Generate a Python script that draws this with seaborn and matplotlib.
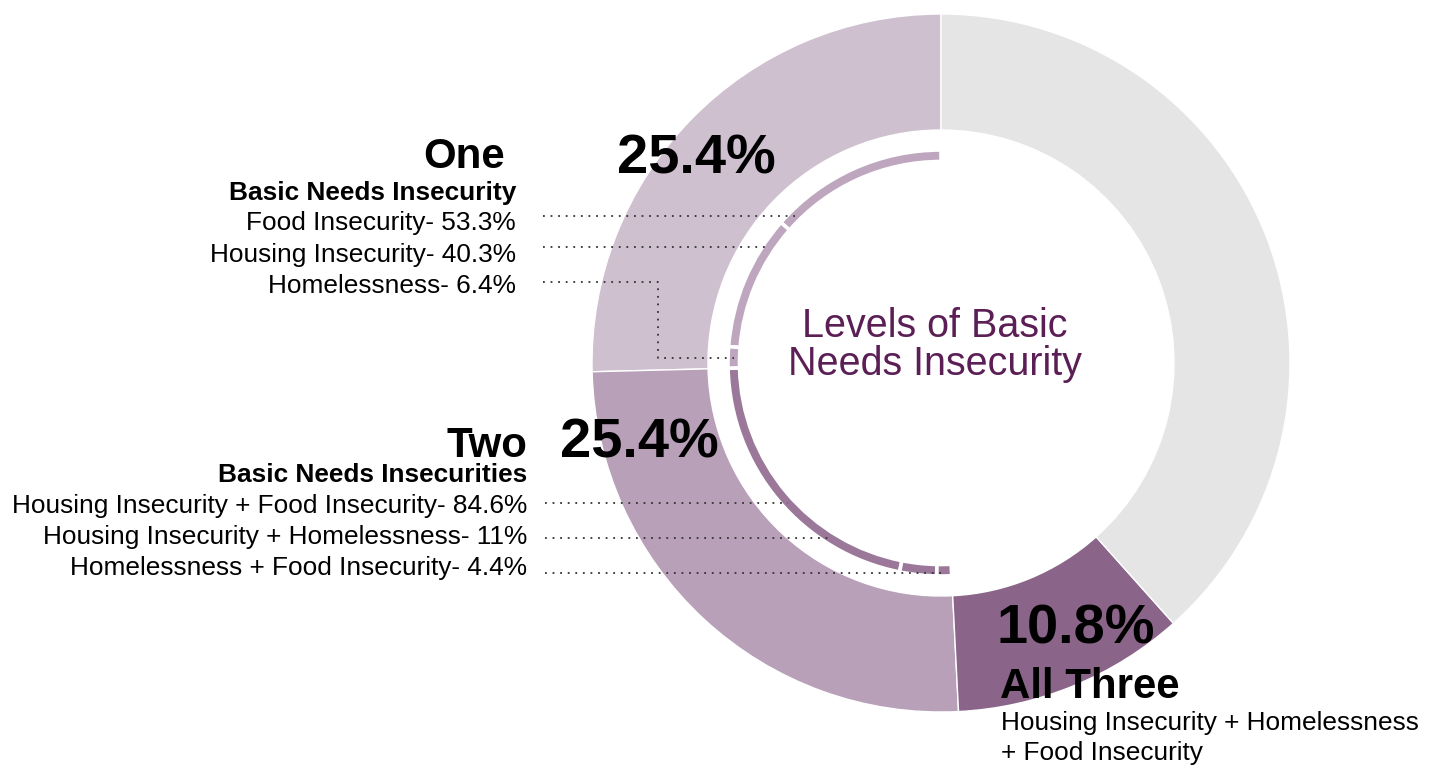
import numpy as np
import matplotlib
matplotlib.use("Agg")
import matplotlib.pyplot as plt
import seaborn as sns

# Share of students by number of basic needs insecurities (%)
levels = ["One", "Two", "All Three"]
level_pct = [25.4, 25.4, 10.8]
level_pct_labels = ["25.4%", "25.4%", "10.8%"]

# Breakdown inside "One"
one_items = ["Food Insecurity", "Housing Insecurity", "Homelessness"]
one_pct = [53.3, 40.3, 6.4]

# Breakdown inside "Two"
two_items = ["Housing Insecurity + Food Insecurity",
             "Housing Insecurity + Homelessness",
             "Homelessness + Food Insecurity"]
two_pct = [84.6, 11, 4.4]

all_three_desc = ["Housing Insecurity + Homelessness", "+ Food Insecurity"]
center_title = ["Levels of Basic", "Needs Insecurity"]

# Colours
ring_colors = ["#cfc0d0", "#b8a0b8", "#8a6489", "#e5e5e5"]
one_arc_color = "#bea6be"
two_arc_color = "#9b789a"
title_color = "#5b1f56"
leader_color = "#333333"

sns.set_theme(style="white")
plt.rcParams["font.family"] = ["Liberation Sans", "DejaVu Sans"]

W, H = 1439, 768
fig = plt.figure(figsize=(W / 100, H / 100), dpi=100)
ax = fig.add_axes([0, 0, 1, 1])


def py(y):
    """Convert a top-down pixel row into the axes' y coordinate."""
    return H - y


def pt(px):
    return px * 72 / 100


cx, cy_px = 941, 363
cy = py(cy_px)
R_out, ring_w = 349, 116
R_sub, sub_w = 213, 11.5
r_mid = R_sub - sub_w / 2

# Outer ring: the three levels plus the remainder
rest = 100 - sum(level_pct)
ax.pie(level_pct + [rest], colors=ring_colors, startangle=90, counterclock=True,
       radius=R_out, center=(cx, cy),
       wedgeprops=dict(width=ring_w, edgecolor="white", linewidth=1))

# Inner thin arcs: breakdown of "One" and "Two" laid over their share of the ring
sub_vals = [level_pct[0] * p / sum(one_pct) for p in one_pct] + \
           [level_pct[1] * p / sum(two_pct) for p in two_pct]
sub_vals.append(100 - sum(sub_vals))
sub_colors = [one_arc_color] * 3 + [two_arc_color] * 3 + ["white"]
sub_wedges, _ = ax.pie(sub_vals, colors=sub_colors, startangle=90, counterclock=True,
                       radius=R_sub, center=(cx, cy),
                       wedgeprops=dict(width=sub_w, edgecolor="white", linewidth=2.6))
sub_wedges[-1].set_visible(False)


def arc_x_at(y_px):
    dy = cy_px - y_px
    if abs(dy) < r_mid:
        return cx - np.sqrt(r_mid ** 2 - dy ** 2)
    return cx


dot_style = dict(color=leader_color, linestyle=(0, (1, 3.2)), linewidth=1.3,
                 dash_capstyle="butt", zorder=5)

# ---- "One" block -------------------------------------------------------
bold = dict(fontweight="bold", color="black")
ax.text(505, py(168), levels[0], ha="right", va="baseline", fontsize=pt(42), **bold)
ax.text(617, py(173), level_pct_labels[0], ha="left", va="baseline", fontsize=pt(56), **bold)
ax.text(516, py(200), "Basic Needs Insecurity", ha="right", va="baseline",
        fontsize=pt(26.3), **bold)

one_base = [230, 262, 293]
one_lead = [216, 247, 282]
for i, (item, p) in enumerate(zip(one_items, one_pct)):
    ax.text(516, py(one_base[i]), f"{item}- {p:g}%", ha="right", va="baseline",
            fontsize=pt(26.2), color="black")
for i in range(2):
    y = one_lead[i]
    ax.plot([543, arc_x_at(y)], [py(y), py(y)], **dot_style)

# Homelessness leader bends down to its own small arc
w = sub_wedges[2]
mid = np.deg2rad((w.theta1 + w.theta2) / 2)
tx, ty = cx + r_mid * np.cos(mid), cy + r_mid * np.sin(mid)
ax.plot([543, 658, 658, tx], [py(one_lead[2]), py(one_lead[2]), ty, ty], **dot_style)

# ---- "Two" block -------------------------------------------------------
ax.text(527, py(457), levels[1], ha="right", va="baseline", fontsize=pt(42), **bold)
ax.text(560, py(457), level_pct_labels[1], ha="left", va="baseline", fontsize=pt(56), **bold)
ax.text(527, py(482), "Basic Needs Insecurities", ha="right", va="baseline",
        fontsize=pt(26.3), **bold)

two_base = [513, 544, 575]
two_lead = [503, 538, 573]
for i, (item, p) in enumerate(zip(two_items, two_pct)):
    ax.text(527, py(two_base[i]), f"{item}- {p:g}%", ha="right", va="baseline",
            fontsize=pt(26.2), color="black")
    y = two_lead[i]
    ax.plot([545, arc_x_at(y)], [py(y), py(y)], **dot_style)

# ---- "All Three" block -------------------------------------------------
ax.text(996, py(643), level_pct_labels[2], ha="left", va="baseline", fontsize=pt(56), **bold)
ax.text(1000, py(698), levels[2], ha="left", va="baseline", fontsize=pt(42), **bold)
for line, yb in zip(all_three_desc, [730, 760]):
    ax.text(1001, py(yb), line, ha="left", va="baseline", fontsize=pt(26.2), color="black")

# ---- centre title ------------------------------------------------------
for line, yb in zip(center_title, [337, 375]):
    ax.text(935, py(yb), line, ha="center", va="baseline", fontsize=pt(39.5),
            color=title_color)

ax.set_xlim(0, W)
ax.set_ylim(0, H)
ax.set_aspect("equal")
ax.set_axis_off()

fig.savefig("out.png", dpi=100, facecolor="white")
